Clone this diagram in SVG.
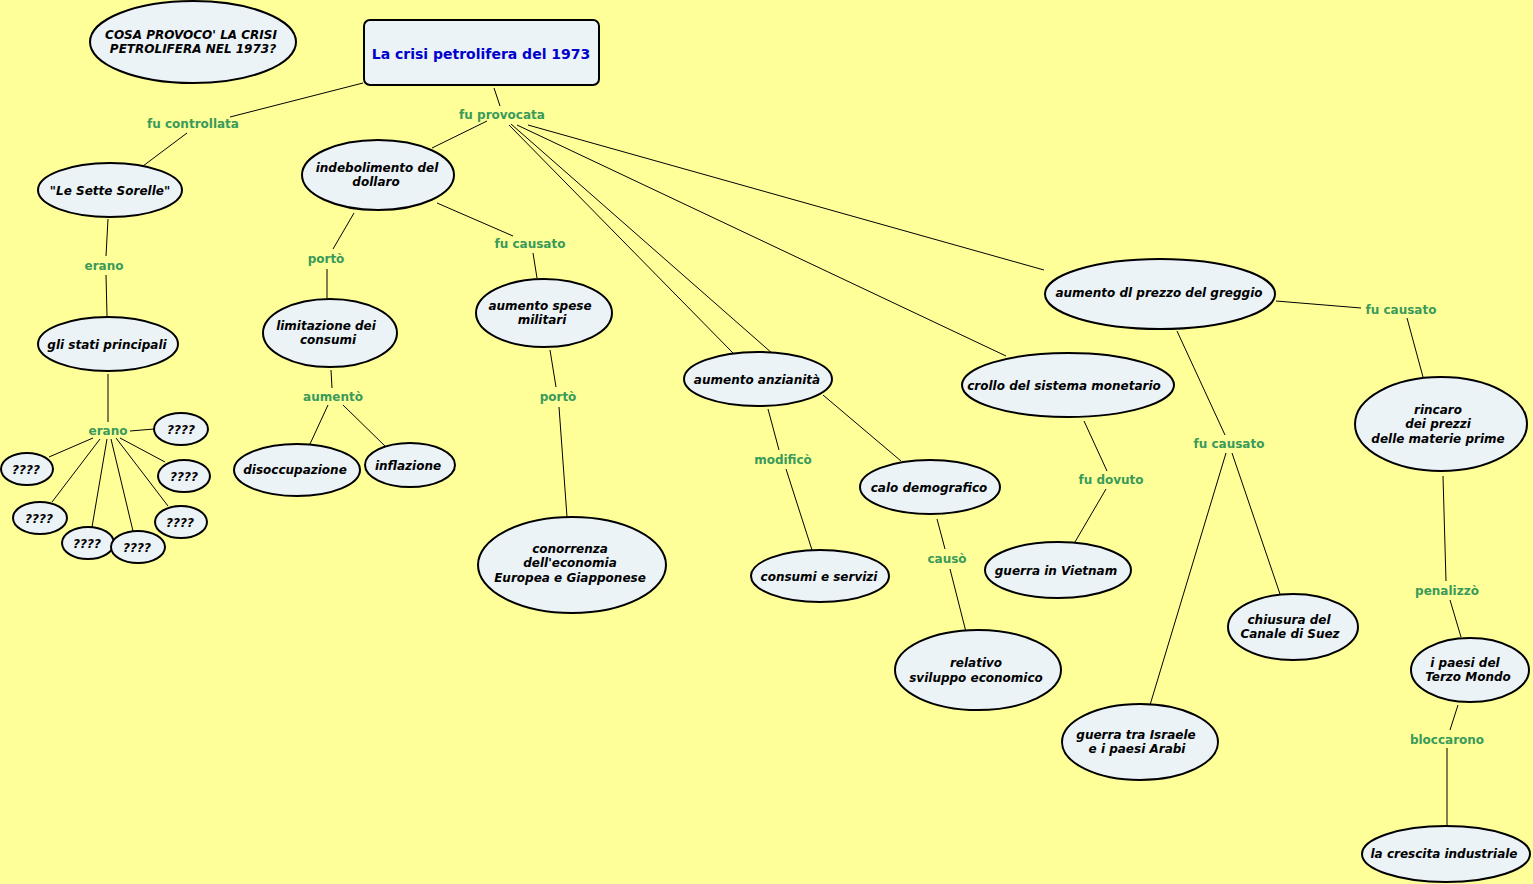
<svg xmlns="http://www.w3.org/2000/svg" width="1533" height="884" viewBox="0 0 1533 884">
<style>
.bg{fill:#FFFF99}
.n{fill:#EBF3F7;stroke:#000;stroke-width:2}
.t{font-family:"DejaVu Sans","Verdana",sans-serif;font-size:12px;font-weight:bold;font-style:italic;fill:#000;text-anchor:middle}
.q{font-size:12px}
.ti{font-family:"DejaVu Sans","Verdana",sans-serif;font-size:14px;font-weight:bold;fill:#0000CC;text-anchor:middle}
.l{font-family:"DejaVu Sans","Verdana",sans-serif;font-size:12px;font-weight:bold;fill:#3A9A5A;text-anchor:middle}
.c line{stroke:#000;stroke-width:1}
</style>
<rect class="bg" x="0" y="0" width="1533" height="884"/>
<g class="c" id="connectors">
<line x1="363" y1="83" x2="230" y2="117"/>
<line x1="187" y1="133" x2="143" y2="166"/>
<line x1="494" y1="88" x2="500" y2="106"/>
<line x1="487" y1="121" x2="432" y2="148"/>
<line x1="509" y1="125" x2="733" y2="353"/>
<line x1="511" y1="124" x2="773" y2="354"/>
<line x1="517" y1="125" x2="1006" y2="356"/>
<line x1="528" y1="125" x2="1044" y2="270"/>
<line x1="108" y1="219" x2="106" y2="256"/>
<line x1="106" y1="275" x2="107" y2="316"/>
<line x1="108" y1="374" x2="108" y2="422"/>
<line x1="130" y1="431" x2="154" y2="429"/>
<line x1="93" y1="438" x2="49" y2="457"/>
<line x1="100" y1="439" x2="52" y2="502"/>
<line x1="107" y1="439" x2="92" y2="527"/>
<line x1="111" y1="439" x2="133" y2="531"/>
<line x1="116" y1="438" x2="168" y2="506"/>
<line x1="120" y1="438" x2="165" y2="462"/>
<line x1="354" y1="213" x2="333" y2="249"/>
<line x1="327" y1="269" x2="327" y2="298"/>
<line x1="437" y1="203" x2="513" y2="236"/>
<line x1="533" y1="253" x2="537" y2="278"/>
<line x1="331" y1="370" x2="332" y2="388"/>
<line x1="328" y1="405" x2="310" y2="444"/>
<line x1="343" y1="405" x2="387" y2="448"/>
<line x1="550" y1="350" x2="556" y2="387"/>
<line x1="559" y1="407" x2="567" y2="517"/>
<line x1="768" y1="409" x2="779" y2="450"/>
<line x1="786" y1="469" x2="812" y2="550"/>
<line x1="823" y1="395" x2="901" y2="461"/>
<line x1="937" y1="519" x2="945" y2="549"/>
<line x1="950" y1="569" x2="966" y2="632"/>
<line x1="1084" y1="421" x2="1107" y2="471"/>
<line x1="1106" y1="489" x2="1075" y2="542"/>
<line x1="1177" y1="331" x2="1225" y2="435"/>
<line x1="1226" y1="453" x2="1150" y2="705"/>
<line x1="1232" y1="453" x2="1280" y2="594"/>
<line x1="1276" y1="301" x2="1361" y2="308"/>
<line x1="1407" y1="318" x2="1423" y2="377"/>
<line x1="1443" y1="476" x2="1446" y2="581"/>
<line x1="1450" y1="600" x2="1461" y2="637"/>
<line x1="1458" y1="705" x2="1450" y2="730"/>
<line x1="1447" y1="748" x2="1447" y2="825"/>
</g>
<g id="labels">
<text class="l" x="193" y="128">fu controllata</text>
<text class="l" x="502" y="119">fu provocata</text>
<text class="l" x="104" y="270">erano</text>
<text class="l" x="108" y="435">erano</text>
<text class="l" x="326" y="263">portò</text>
<text class="l" x="530" y="248">fu causato</text>
<text class="l" x="333" y="401">aumentò</text>
<text class="l" x="558" y="401">portò</text>
<text class="l" x="783" y="464">modificò</text>
<text class="l" x="947" y="563">causò</text>
<text class="l" x="1111" y="484">fu dovuto</text>
<text class="l" x="1229" y="448">fu causato</text>
<text class="l" x="1401" y="314">fu causato</text>
<text class="l" x="1447" y="595">penalizzò</text>
<text class="l" x="1447" y="744">bloccarono</text>
</g>
<g id="n-question"><ellipse class="n" cx="193" cy="42" rx="103" ry="41"/><text class="t q" x="191" y="39">COSA PROVOCO' LA CRISI</text><text class="t q" x="193" y="53">PETROLIFERA NEL 1973?</text></g>
<g id="n-title"><rect class="n" x="364" y="20" width="235" height="65" rx="6"/><text class="ti" x="481" y="59">La crisi petrolifera del 1973</text></g>
<g id="n-sorelle"><ellipse class="n" cx="110" cy="190" rx="72" ry="27"/><text class="t" x="110" y="195">"Le Sette Sorelle"</text></g>
<g id="n-stati"><ellipse class="n" cx="108" cy="344" rx="70" ry="27"/><text class="t" x="107" y="349">gli stati principali</text></g>
<g id="n-q1"><ellipse class="n" cx="181" cy="429" rx="27" ry="16"/><text class="t" x="181" y="434">????</text></g>
<g id="n-q2"><ellipse class="n" cx="27" cy="469" rx="26" ry="16"/><text class="t" x="26" y="474">????</text></g>
<g id="n-q3"><ellipse class="n" cx="184" cy="476" rx="26" ry="16"/><text class="t" x="184" y="481">????</text></g>
<g id="n-q4"><ellipse class="n" cx="40" cy="518" rx="27" ry="16"/><text class="t" x="39" y="523">????</text></g>
<g id="n-q5"><ellipse class="n" cx="181" cy="522" rx="26" ry="16"/><text class="t" x="180" y="527">????</text></g>
<g id="n-q6"><ellipse class="n" cx="88" cy="543" rx="26" ry="16"/><text class="t" x="87" y="548">????</text></g>
<g id="n-q7"><ellipse class="n" cx="138" cy="547" rx="27" ry="16"/><text class="t" x="137" y="552">????</text></g>
<g id="n-indebolimento"><ellipse class="n" cx="378" cy="175" rx="76" ry="35"/><text class="t" x="377" y="172">indebolimento del</text><text class="t" x="376" y="186">dollaro</text></g>
<g id="n-limitazione"><ellipse class="n" cx="330" cy="333" rx="67" ry="34"/><text class="t" x="326" y="330">limitazione dei</text><text class="t" x="328" y="344">consumi</text></g>
<g id="n-disoccupazione"><ellipse class="n" cx="297" cy="470" rx="63" ry="26"/><text class="t" x="295" y="474">disoccupazione</text></g>
<g id="n-inflazione"><ellipse class="n" cx="410" cy="465" rx="45" ry="22"/><text class="t" x="408" y="470">inflazione</text></g>
<g id="n-spese"><ellipse class="n" cx="544" cy="313" rx="68" ry="34"/><text class="t" x="540" y="310">aumento spese</text><text class="t" x="542" y="324">militari</text></g>
<g id="n-conorrenza"><ellipse class="n" cx="572" cy="565" rx="94" ry="48"/><text class="t" x="570" y="553">conorrenza</text><text class="t" x="570" y="567">dell'economia</text><text class="t" x="570" y="582">Europea e Giapponese</text></g>
<g id="n-anzianita"><ellipse class="n" cx="758" cy="379" rx="74" ry="27"/><text class="t" x="757" y="384">aumento anzianità</text></g>
<g id="n-consumi"><ellipse class="n" cx="820" cy="576" rx="69" ry="26"/><text class="t" x="819" y="581">consumi e servizi</text></g>
<g id="n-calo"><ellipse class="n" cx="930" cy="487" rx="70" ry="27"/><text class="t" x="929" y="492">calo demografico</text></g>
<g id="n-relativo"><ellipse class="n" cx="978" cy="670" rx="83" ry="40"/><text class="t" x="976" y="667">relativo</text><text class="t" x="976" y="682">sviluppo economico</text></g>
<g id="n-crollo"><ellipse class="n" cx="1068" cy="385" rx="106" ry="32"/><text class="t" x="1064" y="390">crollo del sistema monetario</text></g>
<g id="n-vietnam"><ellipse class="n" cx="1058" cy="570" rx="73" ry="28"/><text class="t" x="1056" y="575">guerra in Vietnam</text></g>
<g id="n-greggio"><ellipse class="n" cx="1160" cy="294" rx="115" ry="35"/><text class="t" x="1159" y="297">aumento dl prezzo del greggio</text></g>
<g id="n-israele"><ellipse class="n" cx="1140" cy="742" rx="78" ry="38"/><text class="t" x="1136" y="739">guerra tra Israele</text><text class="t" x="1137" y="753">e i paesi Arabi</text></g>
<g id="n-suez"><ellipse class="n" cx="1293" cy="627" rx="65" ry="33"/><text class="t" x="1289" y="624">chiusura del</text><text class="t" x="1290" y="638">Canale di Suez</text></g>
<g id="n-rincaro"><ellipse class="n" cx="1441" cy="424" rx="86" ry="47"/><text class="t" x="1438" y="414">rincaro</text><text class="t" x="1438" y="428">dei prezzi</text><text class="t" x="1438" y="443">delle materie prime</text></g>
<g id="n-paesi"><ellipse class="n" cx="1470" cy="670" rx="59" ry="32"/><text class="t" x="1465" y="667">i paesi del</text><text class="t" x="1468" y="681">Terzo Mondo</text></g>
<g id="n-crescita"><ellipse class="n" cx="1446" cy="854" rx="84" ry="28"/><text class="t" x="1444" y="858">la crescita industriale</text></g>
</svg>
